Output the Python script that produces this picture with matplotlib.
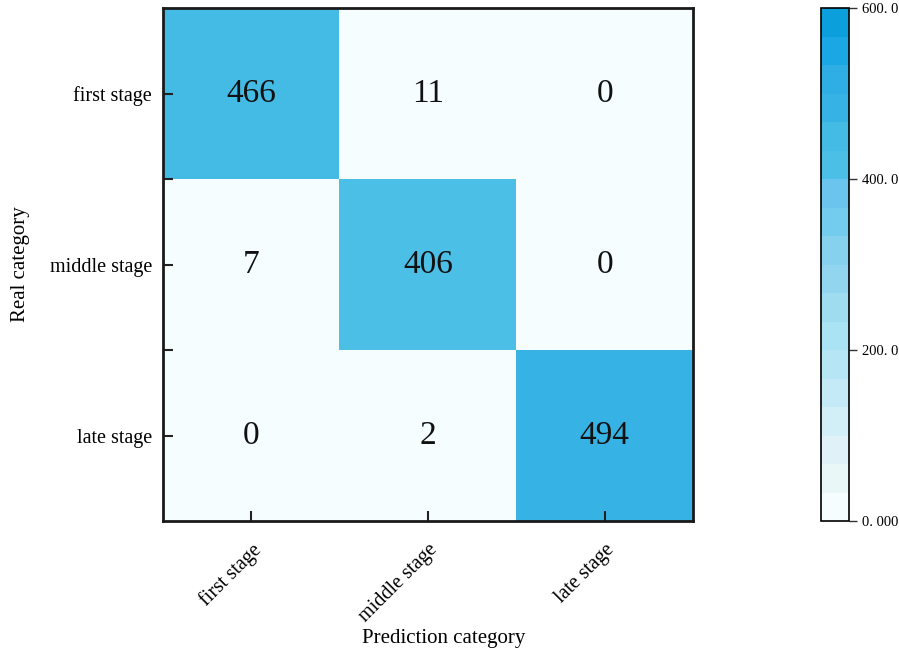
import matplotlib
matplotlib.use("Agg")
import matplotlib.pyplot as plt
import numpy as np
from matplotlib.colors import ListedColormap, Normalize

categories = ["first stage", "middle stage", "late stage"]
matrix = [[466, 11, 0],
          [7, 406, 0],
          [0, 2, 494]]
cbar_ticks = [0, 200, 400, 600]
cbar_labels = ["0. 000", "200. 0", "400. 0", "600. 0"]
band_colors = ["#f5fdfe", "#e9f7f7", "#e0f1f7", "#d2eff7", "#c3eaf6", "#b6e6f5",
               "#aae3f4", "#a0dcef", "#92d5ee", "#86d2ee", "#73ccee", "#6bc4ee",
               "#4cbfe7", "#43bbe5", "#36b3e4", "#2eaee5", "#1aa7e3", "#0b9fdb"]

plt.rcParams['font.family'] = ['Liberation Serif', 'DejaVu Serif']

fig = plt.figure(figsize=(8.99, 6.62), dpi=100)
ax = fig.add_axes([163/899, 1-521/662, 530/899, 513/662])
cax = fig.add_axes([821/899, 1-521/662, 28/899, 513/662])

cmap = ListedColormap(band_colors)
norm = Normalize(vmin=0, vmax=600)
data = np.array(matrix)
im = ax.imshow(data, cmap=cmap, norm=norm, aspect='auto',
               extent=(-0.5, 2.5, 2.5, -0.5))

for i in range(3):
    for j in range(3):
        ax.text(j, i, str(data[i, j]), ha='center', va='center', fontsize=24, color='#111111')

ax.set_xticks(range(3))
ax.set_yticks(range(3))
ax.set_xticklabels(categories, rotation=45, ha='right', rotation_mode='anchor', fontsize=14.5)
ax.set_yticklabels(categories, fontsize=14.5)
ax.set_yticks([0.5, 1.5], minor=True)
ax.tick_params(axis='both', which='major', direction='in', length=7, width=1.5, pad=8, color='#222222')
ax.tick_params(axis='y', which='minor', direction='in', length=7, width=1.5, color='#222222')
ax.tick_params(axis='x', pad=14)
ax.set_xlabel("Prediction category", fontsize=15)
ax.xaxis.set_label_coords(0.53, -0.21)
ax.set_ylabel("Real category", fontsize=15, labelpad=14)
for s in ax.spines.values():
    s.set_linewidth(2)
    s.set_color('#1a1a1a')

cb = fig.colorbar(im, cax=cax)
cb.set_ticks(cbar_ticks)
cb.set_ticklabels(cbar_labels)
cb.ax.tick_params(labelsize=10.5, length=6, width=1, direction='out', color='#333333')
cb.outline.set_linewidth(1.2)

fig.savefig("out.png", dpi=100)
